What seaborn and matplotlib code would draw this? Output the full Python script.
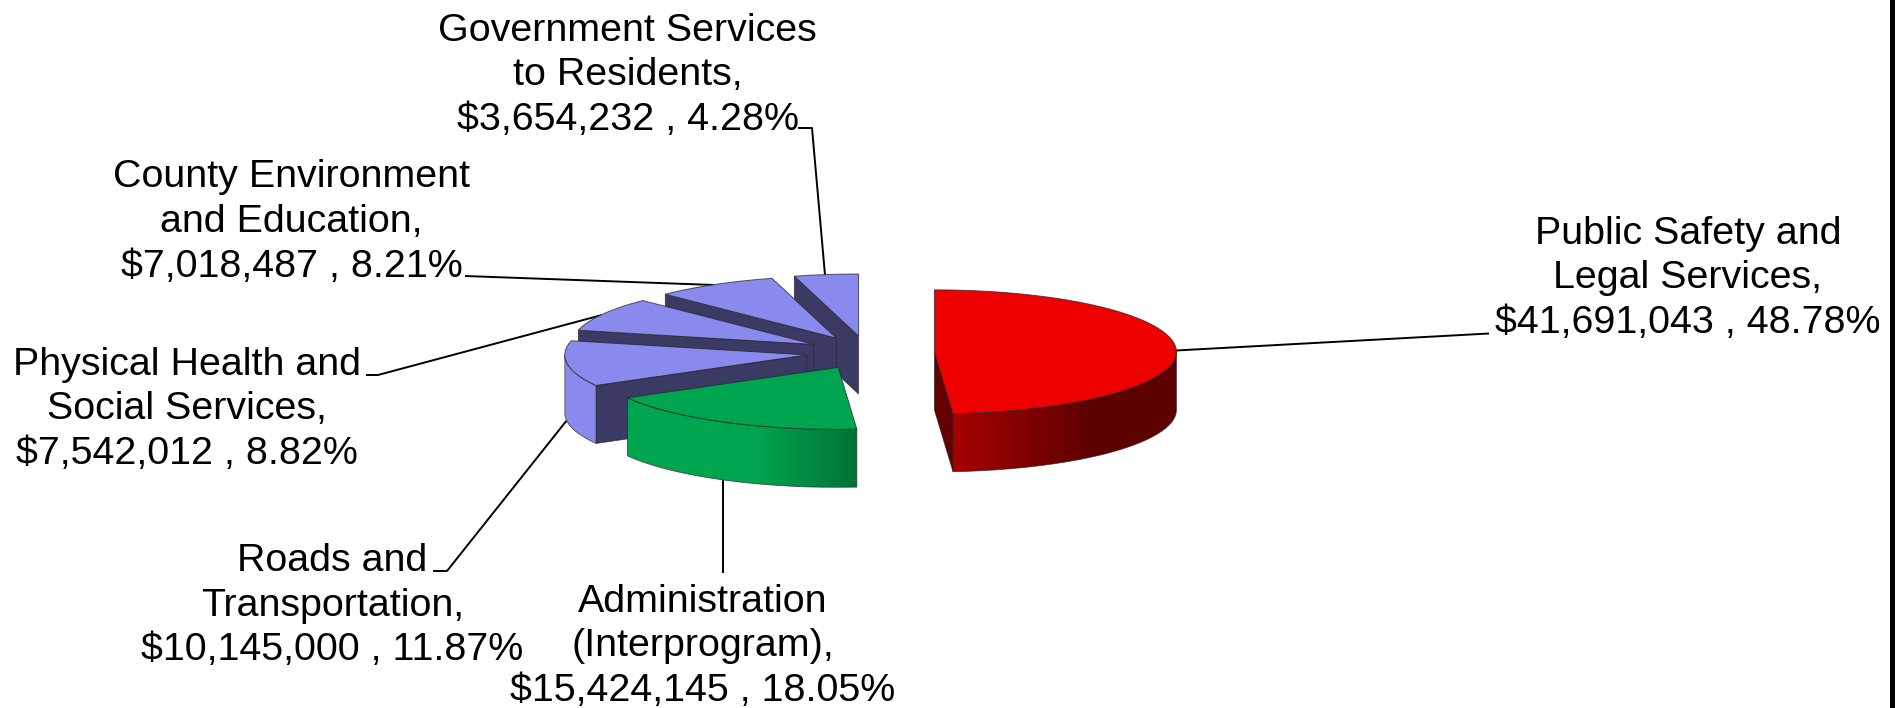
import numpy as np
import pandas as pd
import seaborn as sns
import matplotlib
matplotlib.use("Agg")
import matplotlib.pyplot as plt
from matplotlib.patches import Polygon

# County budget by program, clockwise from twelve o'clock
programs = ["Public Safety and\nLegal Services",
            "Administration\n(Interprogram)",
            "Roads and\nTransportation",
            "Physical Health and\nSocial Services",
            "County Environment\nand Education",
            "Government Services\nto Residents"]
budget = [41691043, 15424145, 10145000, 7542012, 7018487, 3654232]

slice_colors = ["#ee0000", "#00a54f", "#8a8aee", "#8a8aee", "#8a8aee", "#8a8aee"]
pull_out = [0.28, 0.25, 0.25, 0.25, 0.25, 0.25]

label_x = [1688, 702.5, 332.5, 187, 291.5, 627.6]
label_y = [278.5, 646.5, 605.5, 409.5, 222, 75.5]
leaders = [
    [(1176, 350.5), (1489, 333.5)],
    [(723, 573), (723, 480)],
    [(433, 571), (447, 571), (566.5, 420.7)],
    [(366, 375), (378, 375), (602, 315)],
    [(465, 276), (714, 285)],
    [(798, 128), (812, 128), (825, 275)],
]

# Projection of the tilted pie, in figure pixels
RX, RY, DEPTH = 242.0, 62.0, 58.0
CX, CY = 866.7, 352.6
TILT_PULL = 0.27 / 0.25


def shade(theta):
    """Brightness of the outer rim at a clockwise angle from the top."""
    return np.interp(theta, [90, 140, 176, 200, 360], [0.39, 0.39, 0.70, 1.0, 1.0])


def ring_point(theta, c):
    t = np.radians(theta)
    return c[0] + RX * np.sin(t), c[1] - RY * np.cos(t)


sns.set_theme(style="white")
plt.rcParams["font.family"] = ["Liberation Sans", "DejaVu Sans"]

frame = pd.DataFrame({"program": programs, "budget": budget, "color": slice_colors,
                      "pull": pull_out, "lx": label_x, "ly": label_y})
frame["share"] = frame["budget"] / frame["budget"].sum() * 100
frame["end"] = frame["share"].cumsum() * 3.6
frame["start"] = frame["end"] - frame["share"] * 3.6
palette = sns.color_palette(slice_colors)

fig = plt.figure(figsize=(18.96, 7.08), dpi=100)
ax = fig.add_axes([0, 0, 1, 1])

for path in leaders:
    xs, ys = zip(*path)
    ax.plot(xs, ys, color="black", lw=1.4, zorder=1, solid_capstyle="butt")

edge = (0.15, 0.15, 0.15, 0.75)
# Painted back to front: the small back slices first, the large red slice last
for z, i in enumerate(range(len(frame) - 1, -1, -1)):
    row = frame.iloc[i]
    base = np.array(palette[i])
    mid = np.radians((row["start"] + row["end"]) / 2)
    c = (CX + row["pull"] * RX * np.sin(mid),
         CY - row["pull"] * RY * TILT_PULL * np.cos(mid))
    zo = 2 + z
    wall_col = base * 0.42

    # Radial walls that face the viewer
    for theta, visible in ((row["start"], row["start"] > 180), (row["end"], row["end"] < 180)):
        if visible:
            px, py = ring_point(theta, c)
            ax.add_patch(Polygon([c, (px, py), (px, py + DEPTH), (c[0], c[1] + DEPTH)],
                                 closed=True, fc=wall_col, ec=edge, lw=0.6, zorder=zo))

    # Outer rim: a horizontal lighting gradient clipped to the rim outline
    lo, hi = max(row["start"], 90), min(row["end"], 270)
    if hi > lo:
        angles = np.linspace(lo, hi, 200)
        rx, ry = map(np.array, zip(*[ring_point(a, c) for a in angles]))
        outline = np.r_[np.c_[rx, ry], np.c_[rx, ry + DEPTH][::-1]]
        order = np.argsort(rx)
        grid_x = np.linspace(rx.min(), rx.max(), 400)
        strength = np.interp(grid_x, rx[order], shade(angles)[order])
        gradient = np.clip(strength[None, :, None] * base[None, None, :], 0, 1)
        rim = Polygon(outline, closed=True, fc="none", ec=edge, lw=0.6, zorder=zo + 0.1)
        ax.add_patch(rim)
        img = ax.imshow(gradient, extent=(rx.min(), rx.max(), ry.max() + DEPTH, ry.min()),
                        aspect="auto", interpolation="bilinear", zorder=zo)
        img.set_clip_path(rim)

    # Top face of the slice
    arc = [ring_point(a, c) for a in np.linspace(row["start"], row["end"], 120)]
    ax.add_patch(Polygon([c] + arc, closed=True, fc=base, ec=edge, lw=0.7, zorder=zo + 0.2))

for row in frame.itertuples():
    text = f"{row.program},\n${row.budget:,} , {row.share:.2f}%"
    ax.text(row.lx, row.ly, text, ha="center", va="center", ma="center",
            fontsize=28.4, color="black", linespacing=1.32, zorder=20)

# Heavy frame line down the right-hand side
ax.axvspan(1890.5, 1895, color="black", lw=0, zorder=20)

ax.set_xlim(0, 1896)
ax.set_ylim(708, 0)
ax.axis("off")

fig.savefig("out.png", dpi=100, facecolor="white")
